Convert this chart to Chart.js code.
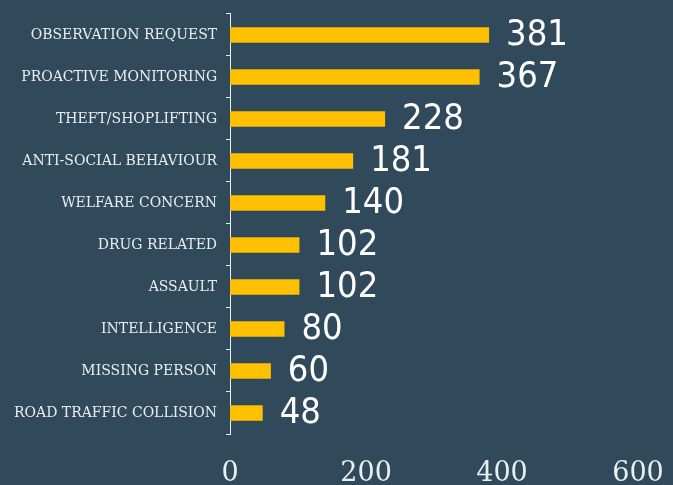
<!DOCTYPE html>
<html>
<head>
<meta charset="utf-8">
<script src="https://cdn.jsdelivr.net/npm/chart.js@4"></script>
<style>
  html, body { margin: 0; padding: 0; background: #314a5b; }
  #wrap { width: 673px; height: 485px; }
</style>
</head>
<body>
<div id="wrap"><canvas id="incidentChart"></canvas></div>
<script>
// incident categories and counts
const categories = [
  "OBSERVATION REQUEST",
  "PROACTIVE MONITORING",
  "THEFT/SHOPLIFTING",
  "ANTI-SOCIAL BEHAVIOUR",
  "WELFARE CONCERN",
  "DRUG RELATED",
  "ASSAULT",
  "INTELLIGENCE",
  "MISSING PERSON",
  "ROAD TRAFFIC COLLISION"
];
const counts = [381, 367, 228, 181, 140, 102, 102, 80, 60, 48];
const xTicks = [0, 200, 400, 600];

const TEXT = "#e9eef0";
const BAR = "#ffc000";

// big value numbers to the right of each bar
const valueLabels = {
  id: "valueLabels",
  afterDatasetsDraw(chart) {
    const ctx = chart.ctx;
    const meta = chart.getDatasetMeta(0);
    ctx.save();
    ctx.font = '36px "DejaVu Sans Condensed", "DejaVu Sans"';
    ctx.fillStyle = "#ffffff";
    ctx.textAlign = "left";
    ctx.textBaseline = "middle";
    meta.data.forEach((bar, i) => {
      ctx.fillText(String(counts[i]), bar.x + 17, bar.y + 1);
    });
    ctx.restore();
  }
};

const chart = new Chart(document.getElementById("incidentChart"), {
  type: "bar",
  data: {
    labels: categories,
    datasets: [{
      data: counts,
      backgroundColor: BAR,
      borderWidth: 0,
      barPercentage: 0.74,
      categoryPercentage: 0.5
    }]
  },
  options: {
    indexAxis: "y",
    responsive: true,
    maintainAspectRatio: false,
    animation: false,
    layout: { padding: { top: 4, right: 0, bottom: 0, left: 5 } },
    plugins: {
      legend: { display: false },
      tooltip: { enabled: false }
    },
    scales: {
      x: {
        min: 0,
        max: 600,
        afterBuildTicks: (axis) => { axis.ticks = xTicks.map(v => ({ value: v })); },
        // fixed axis band height, and keep the "600" label from pushing the plot in
        afterFit: (axis) => {
          axis.height = 51;
          axis.paddingRight = 35;
          axis.paddingLeft = 0;
        },
        grid: { display: false, drawTicks: false },
        border: { display: false },
        ticks: {
          color: TEXT,
          padding: 24,
          font: { family: '"DejaVu Serif"', size: 27 }
        }
      },
      y: {
        grid: {
          drawOnChartArea: false,
          drawTicks: true,
          tickLength: 4,
          color: TEXT,
          offset: true
        },
        border: { display: true, color: TEXT, width: 1 },
        ticks: {
          color: TEXT,
          padding: 9,
          font: { family: '"DejaVu Serif"', size: 14, lineHeight: 0.7 }
        }
      }
    }
  },
  plugins: [valueLabels]
});
</script>
</body>
</html>
